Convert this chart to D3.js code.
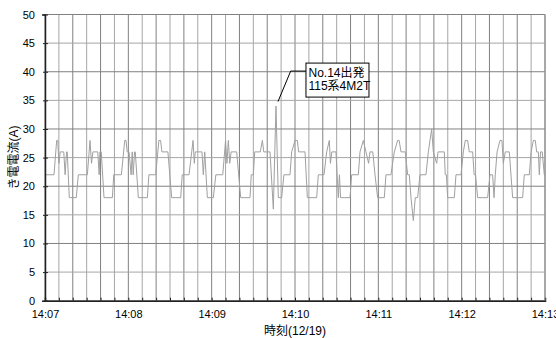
<!DOCTYPE html>
<html>
<head>
<meta charset="utf-8">
<script src="https://cdn.jsdelivr.net/npm/d3@7"></script>
<style>
  body { margin: 0; background: #fff; }
  text { font-family: "Liberation Sans", "Noto Sans CJK JP", sans-serif; fill: #000; }
</style>
</head>
<body>
<div id="chart-area"></div>
<script>
// DATA: seconds after 14:07:00 and current (A)
const samples = [
	[0,22],[6.5,22],[8.4,28],[9.2,28],[10,24],[11,26],[13.5,26],[14.5,22],[15.5,26],[16,26],[17.5,18],[22.5,18],[24,22],[30.5,22],
	[32.4,28],[33.5,24],[34.5,26],[38,26],[39,22],[39.5,26],[40.5,26],[42.5,18],[48.5,18],[49.5,22],[55,22],
	[57.4,28],[58.3,28],[59.2,26],[60.5,26],[62,22],[62.8,26],[63.5,22],[64.5,26],[65,26],[67.2,18],[73.7,18],[74.8,22],[79.7,22],
	[82,28],[83.2,28],[84.2,26],[88.5,26],[91.2,18],[97.7,18],[98.8,22],[103.7,22],
	[106.6,28],[107.5,24],[108.2,26],[113,26],[114,22],[115,26],[116.9,18],[121.2,18],[123,22],[128,22],
	[130,28],[131,24],[132,28],[133,24],[134,26],[138,26],[140.9,18],[147.6,18],[148.5,22],[150,22],[151,26],[155,26],
	[156.5,28],[157.5,26],[162,26],[164.4,16],[166.3,34],[168,18],[170.4,18],[172,22],[176.4,22],
	[177.6,26],[180,28],[181.7,28],[182.6,26],[187.2,26],[188.9,18],[195.6,18],[196.8,22],[200.9,22],
	[202.8,26],[204.7,28],[205.5,24],[206.5,26],[209.5,26],[211.2,18],[212,22],[212.8,18],[219.6,18],[220.8,22],[225.6,22],
	[226.8,26],[229.2,28],[231.1,26],[233,24],[234,26],[236,26],[237.6,22],[239.5,18],[244.3,18],[245.5,22],[249.1,22],
	[251.5,26],[253.9,28],[255,28],[256.3,26],[259.4,26],[261.1,22],[262.3,22],[263.5,18],[265.2,14],[266.6,18],[268.3,18],[270,22],[274.3,22],
	[276,26],[278.4,30],[279.6,26],[282,24],[283,26],[287.5,26],[288.2,22],[289,22],[289.9,18],[294.7,18],[295.9,22],[299.5,22],
	[301.2,26],[302.6,28],[304.3,28],[305.5,26],[307.9,26],[309,22],[310,22],[311.5,18],[318.7,18],[320.4,22],[322.3,22],[323.3,18],[324.2,22],
	[325.5,26],[327.6,28],[329,28],[330,24],[331.4,26],[334.3,26],[336.7,18],[343.9,18],[345.1,22],[348.7,22],
	[350,26],[351.6,28],[353,28],[354,26],[355.2,26],[355.9,22],[356.8,26],[358,26],[359.5,22],[360,22]
]

// TICKS
const yTicks = [0, 5, 10, 15, 20, 25, 30, 35, 40, 45, 50]
const gridSecs = d3.range(0, 361, 10)
const labelSecs = [0, 60, 120, 180, 240, 300, 360]

// annotation
const note = { t: 166.3, v: 34, lines: ["No.14出発", "115系4M2T"] }

const xTitle = "時刻(12/19)"
const yTitle = "き電電流(A)"

// LAYOUT
const AREA_WIDTH = 556
const AREA_HEIGHT = 338
const MARGIN = { LEFT: 45, RIGHT: 11, TOP: 14.5, BOTTOM: 37.3 }
const WIDTH = AREA_WIDTH - MARGIN.LEFT - MARGIN.RIGHT
const HEIGHT = AREA_HEIGHT - MARGIN.TOP - MARGIN.BOTTOM

const svg = d3.select("#chart-area").append("svg")
	.attr("width", AREA_WIDTH)
	.attr("height", AREA_HEIGHT)

const g = svg.append("g")
	.attr("transform", `translate(${MARGIN.LEFT},${MARGIN.TOP})`)

// scales: time on x, current on y
const t0 = new Date(2000, 11, 19, 14, 7, 0)
const toDate = s => new Date(t0.getTime() + s * 1000)

const x = d3.scaleTime()
	.domain([toDate(0), toDate(360)])
	.range([0, WIDTH])

const y = d3.scaleLinear()
	.domain([0, 50])
	.range([HEIGHT, 0])

// grid lines
g.selectAll(".vgrid").data(gridSecs).enter().append("line")
	.attr("class", "vgrid")
	.attr("x1", d => x(toDate(d))).attr("x2", d => x(toDate(d)))
	.attr("y1", 0).attr("y2", HEIGHT)
	.attr("stroke", (d, i) => i % 2 ? "#a6a6a6" : "#808080")
	.attr("stroke-width", 1)

g.selectAll(".hgrid").data(yTicks).enter().append("line")
	.attr("class", "hgrid")
	.attr("x1", 0).attr("x2", WIDTH)
	.attr("y1", d => y(d)).attr("y2", d => y(d))
	.attr("stroke", (d, i) => i % 2 ? "#a6a6a6" : "#808080")
	.attr("stroke-width", 1)

// the trace
const line = d3.line()
	.x(d => x(toDate(d[0])))
	.y(d => y(d[1]))

g.append("path")
	.datum(samples)
	.attr("fill", "none")
	.attr("stroke", "#a0a0a0")
	.attr("stroke-width", 1)
	.attr("d", line)

// axes
const yAxisCall = d3.axisLeft(y)
	.tickValues(yTicks)
	.tickSize(3)
	.tickPadding(7)

const yAxis = g.append("g").call(yAxisCall)
yAxis.select(".domain").attr("stroke", "#222").attr("stroke-width", 1.5)
yAxis.selectAll(".tick line").attr("x2", -2).attr("x1", 3).attr("stroke", "#222")
yAxis.selectAll("text").attr("font-size", "11px").attr("fill", "#000")

const xAxisCall = d3.axisBottom(x)
	.tickValues(gridSecs.map(toDate))
	.tickSize(-3)
	.tickFormat(d => labelSecs.includes((d - t0) / 1000) ? d3.timeFormat("%H:%M")(d) : "")

const xAxis = g.append("g")
	.attr("transform", `translate(0,${HEIGHT})`)
	.call(xAxisCall)
xAxis.select(".domain").attr("stroke", "#222").attr("stroke-width", 1.5)
xAxis.selectAll(".tick line").attr("stroke", "#222")
xAxis.selectAll("text").attr("font-size", "11px").attr("dy", "1.3em").attr("fill", "#000")

// right border
g.append("line")
	.attr("x1", WIDTH).attr("x2", WIDTH)
	.attr("y1", 0).attr("y2", HEIGHT)
	.attr("stroke", "#909090")

// axis titles
g.append("text")
	.attr("x", WIDTH / 2)
	.attr("y", HEIGHT + 34.5)
	.attr("font-size", "12px")
	.attr("text-anchor", "middle")
	.text(xTitle)

g.append("text")
	.attr("transform", "rotate(-90)")
	.attr("x", -HEIGHT / 2)
	.attr("y", -27)
	.attr("font-size", "12px")
	.attr("text-anchor", "middle")
	.text(yTitle)

// annotation with leader line
const ax = x(toDate(note.t))
const ay = y(note.v)
const box = { x: ax + 30, y: ay - 43, w: 63, h: 34 }

g.append("path")
	.attr("d", `M${ax + 2},${ay - 4.5} L${ax + 14.7},${ay - 35} L${box.x},${ay - 35}`)
	.attr("fill", "none")
	.attr("stroke", "#000")
	.attr("stroke-width", 1)

g.append("rect")
	.attr("x", box.x).attr("y", box.y)
	.attr("width", box.w).attr("height", box.h)
	.attr("fill", "#fff")
	.attr("stroke", "#000")
	.attr("stroke-width", 1)

g.selectAll(".note").data(note.lines).enter().append("text")
	.attr("class", "note")
	.attr("x", box.x + 2.5)
	.attr("y", (d, i) => box.y + 13.5 + i * 13)
	.attr("font-size", "12px")
	.text(d => d)
</script>
</body>
</html>
